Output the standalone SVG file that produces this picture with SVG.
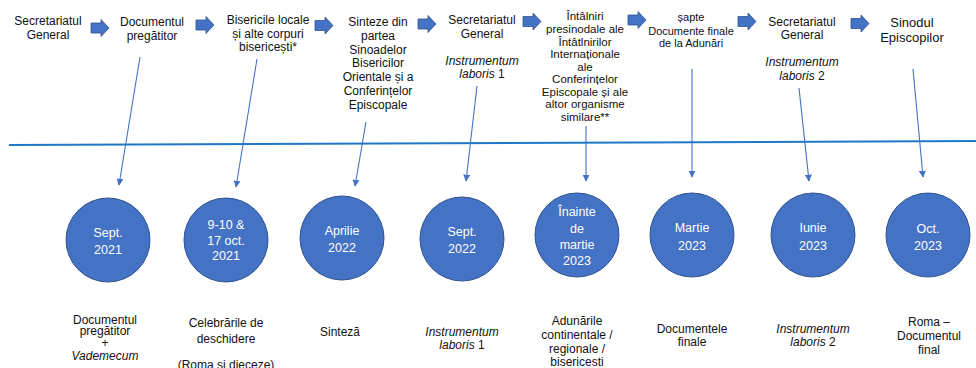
<svg xmlns="http://www.w3.org/2000/svg" width="976" height="368" viewBox="0 0 976 368">
<style>
text{font-family:"Liberation Sans",Arial,sans-serif;font-size:12px;fill:#111;text-anchor:middle}
.c{fill:#4472c4;stroke:#2f528f;stroke-width:1}
.ct{fill:#fff;font-size:12.5px}
.i{font-style:italic}
.s{font-size:11.5px}
.ba{fill:#4472c4;stroke:#2f528f;stroke-width:0.8}
.ln{stroke:#4472c4;stroke-width:1.1;fill:none;marker-end:url(#ah)}
</style>
<defs>
<marker id="ah" viewBox="0 0 10 10" refX="9" refY="5" markerWidth="7" markerHeight="7" markerUnits="userSpaceOnUse" orient="auto">
<path d="M0,0 L10,5 L0,10 Z" fill="#4472c4"/>
</marker>
<path id="barrow" d="M0,-5 H10 V-8.5 L18,0 L10,8.5 V5 H0 Z"/>
</defs>
<rect width="976" height="368" fill="#fff"/>

<line x1="9" y1="145" x2="976" y2="141" stroke="#1f77c8" stroke-width="2"/>

<g id="block-arrows">
<use href="#barrow" class="ba" x="91" y="28"/>
<use href="#barrow" class="ba" x="196" y="25"/>
<use href="#barrow" class="ba" x="315" y="25.5"/>
<use href="#barrow" class="ba" x="418" y="24"/>
<use href="#barrow" class="ba" x="523" y="21.5"/>
<use href="#barrow" class="ba" x="628" y="20"/>
<use href="#barrow" class="ba" x="738" y="21.5"/>
<use href="#barrow" class="ba" x="851" y="23.5"/>
</g>

<g id="top-labels">
<g id="t1"><text x="48" y="25">Secretariatul</text><text x="48" y="39">General</text></g>
<g id="t2"><text x="152" y="26">Documentul</text><text x="152" y="40">pregătitor</text></g>
<g id="t3"><text x="268" y="24">Bisericile locale</text><text x="268" y="38">și alte corpuri</text><text x="268" y="51">bisericești*</text></g>
<g id="t4"><text x="378" y="26">Sinteze din</text><text x="378" y="40">partea</text><text x="378" y="54">Sinoadelor</text><text x="378" y="67">Bisericilor</text><text x="378" y="81">Orientale și a</text><text x="378" y="95">Conferințelor</text><text x="378" y="109">Episcopale</text></g>
<g id="t5"><text x="482" y="24">Secretariatul</text><text x="482" y="38">General</text><text x="482" y="65" class="i">Instrumentum</text><text x="482" y="78"><tspan class="i">laboris</tspan> 1</text></g>
<g id="t6"><text class="s" x="585" y="20">Întâlniri</text><text class="s" x="585" y="33">presinodale ale</text><text class="s" x="585" y="45.5">Întâtlnirilor</text><text class="s" x="585" y="58">Internaționale</text><text class="s" x="585" y="70.5">ale</text><text class="s" x="585" y="83">Conferințelor</text><text class="s" x="585" y="95.5">Episcopale și ale</text><text class="s" x="585" y="108">altor organisme</text><text class="s" x="585" y="120.5">similare**</text></g>
<g id="t7"><text x="691" y="20.5" style="font-size:11px">șapte</text><text x="691" y="34.5" style="font-size:11px">Documente finale</text><text x="691" y="47" style="font-size:11px">de la Adunări</text></g>
<g id="t8"><text x="802" y="26">Secretariatul</text><text x="802" y="39">General</text><text x="802" y="66" class="i">Instrumentum</text><text x="802" y="80"><tspan class="i">laboris</tspan> 2</text></g>
<g id="t9"><text x="912" y="27" style="font-size:13px">Sinodul</text><text x="912" y="42" style="font-size:13px">Episcopilor</text></g>
</g>

<g id="connectors">
<line class="ln" x1="140" y1="57" x2="119" y2="185"/>
<line class="ln" x1="257" y1="59" x2="236" y2="187"/>
<line class="ln" x1="366" y1="122" x2="355" y2="186"/>
<line class="ln" x1="477" y1="86" x2="466" y2="181"/>
<line class="ln" x1="586" y1="126" x2="586" y2="181"/>
<line class="ln" x1="692" y1="69" x2="692" y2="177"/>
<line class="ln" x1="799" y1="88" x2="809" y2="181"/>
<line class="ln" x1="913" y1="69" x2="923" y2="177"/>
</g>

<g id="n1"><circle class="c" cx="108" cy="240" r="42"/><text class="ct" x="108" y="237">Sept.</text><text class="ct" x="108" y="254">2021</text></g>
<g id="n2"><circle class="c" cx="226" cy="240" r="42"/><text class="ct" x="226" y="229">9-10 &amp;</text><text class="ct" x="226" y="245">17 oct.</text><text class="ct" x="226" y="260">2021</text></g>
<g id="n3"><circle class="c" cx="342" cy="238" r="42"/><text class="ct" x="342" y="234.5">Aprilie</text><text class="ct" x="342" y="252">2022</text></g>
<g id="n4"><circle class="c" cx="462" cy="239" r="42"/><text class="ct" x="462" y="236">Sept.</text><text class="ct" x="462" y="253">2022</text></g>
<g id="n5"><circle class="c" cx="577" cy="235" r="42"/><text class="ct" x="577" y="216">Înainte</text><text class="ct" x="577" y="233">de</text><text class="ct" x="577" y="249">martie</text><text class="ct" x="577" y="265">2023</text></g>
<g id="n6"><circle class="c" cx="692" cy="235" r="42"/><text class="ct" x="692" y="232">Martie</text><text class="ct" x="692" y="249.5">2023</text></g>
<g id="n7"><circle class="c" cx="813" cy="235" r="42"/><text class="ct" x="813" y="232">Iunie</text><text class="ct" x="813" y="249.5">2023</text></g>
<g id="n8"><circle class="c" cx="928" cy="235" r="42"/><text class="ct" x="928" y="232.5">Oct.</text><text class="ct" x="928" y="249.5">2023</text></g>

<g id="bottom-labels">
<g id="b1"><text x="105" y="323.5">Documentul</text><text x="105" y="335">pregătitor</text><text x="105" y="346.5">+</text><text x="105" y="359.5" class="i">Vademecum</text></g>
<g id="b2"><text x="226" y="327">Celebrările de</text><text x="226" y="342.5">deschidere</text><text x="226" y="369">(Roma și dieceze)</text></g>
<g id="b3"><text x="340" y="336">Sinteză</text></g>
<g id="b4"><text x="462" y="336" class="i">Instrumentum</text><text x="462" y="349"><tspan class="i">laboris</tspan> 1</text></g>
<g id="b5"><text x="577" y="324.5">Adunările</text><text x="577" y="338.5">continentale /</text><text x="577" y="352.5">regionale /</text><text x="577" y="366">bisericesti</text></g>
<g id="b6"><text x="692" y="332.5">Documentele</text><text x="692" y="346">finale</text></g>
<g id="b7"><text x="813" y="332.5" class="i">Instrumentum</text><text x="813" y="346"><tspan class="i">laboris</tspan> 2</text></g>
<g id="b8"><text x="929" y="326">Roma –</text><text x="929" y="340">Documentul</text><text x="929" y="354">final</text></g>
</g>
</svg>
